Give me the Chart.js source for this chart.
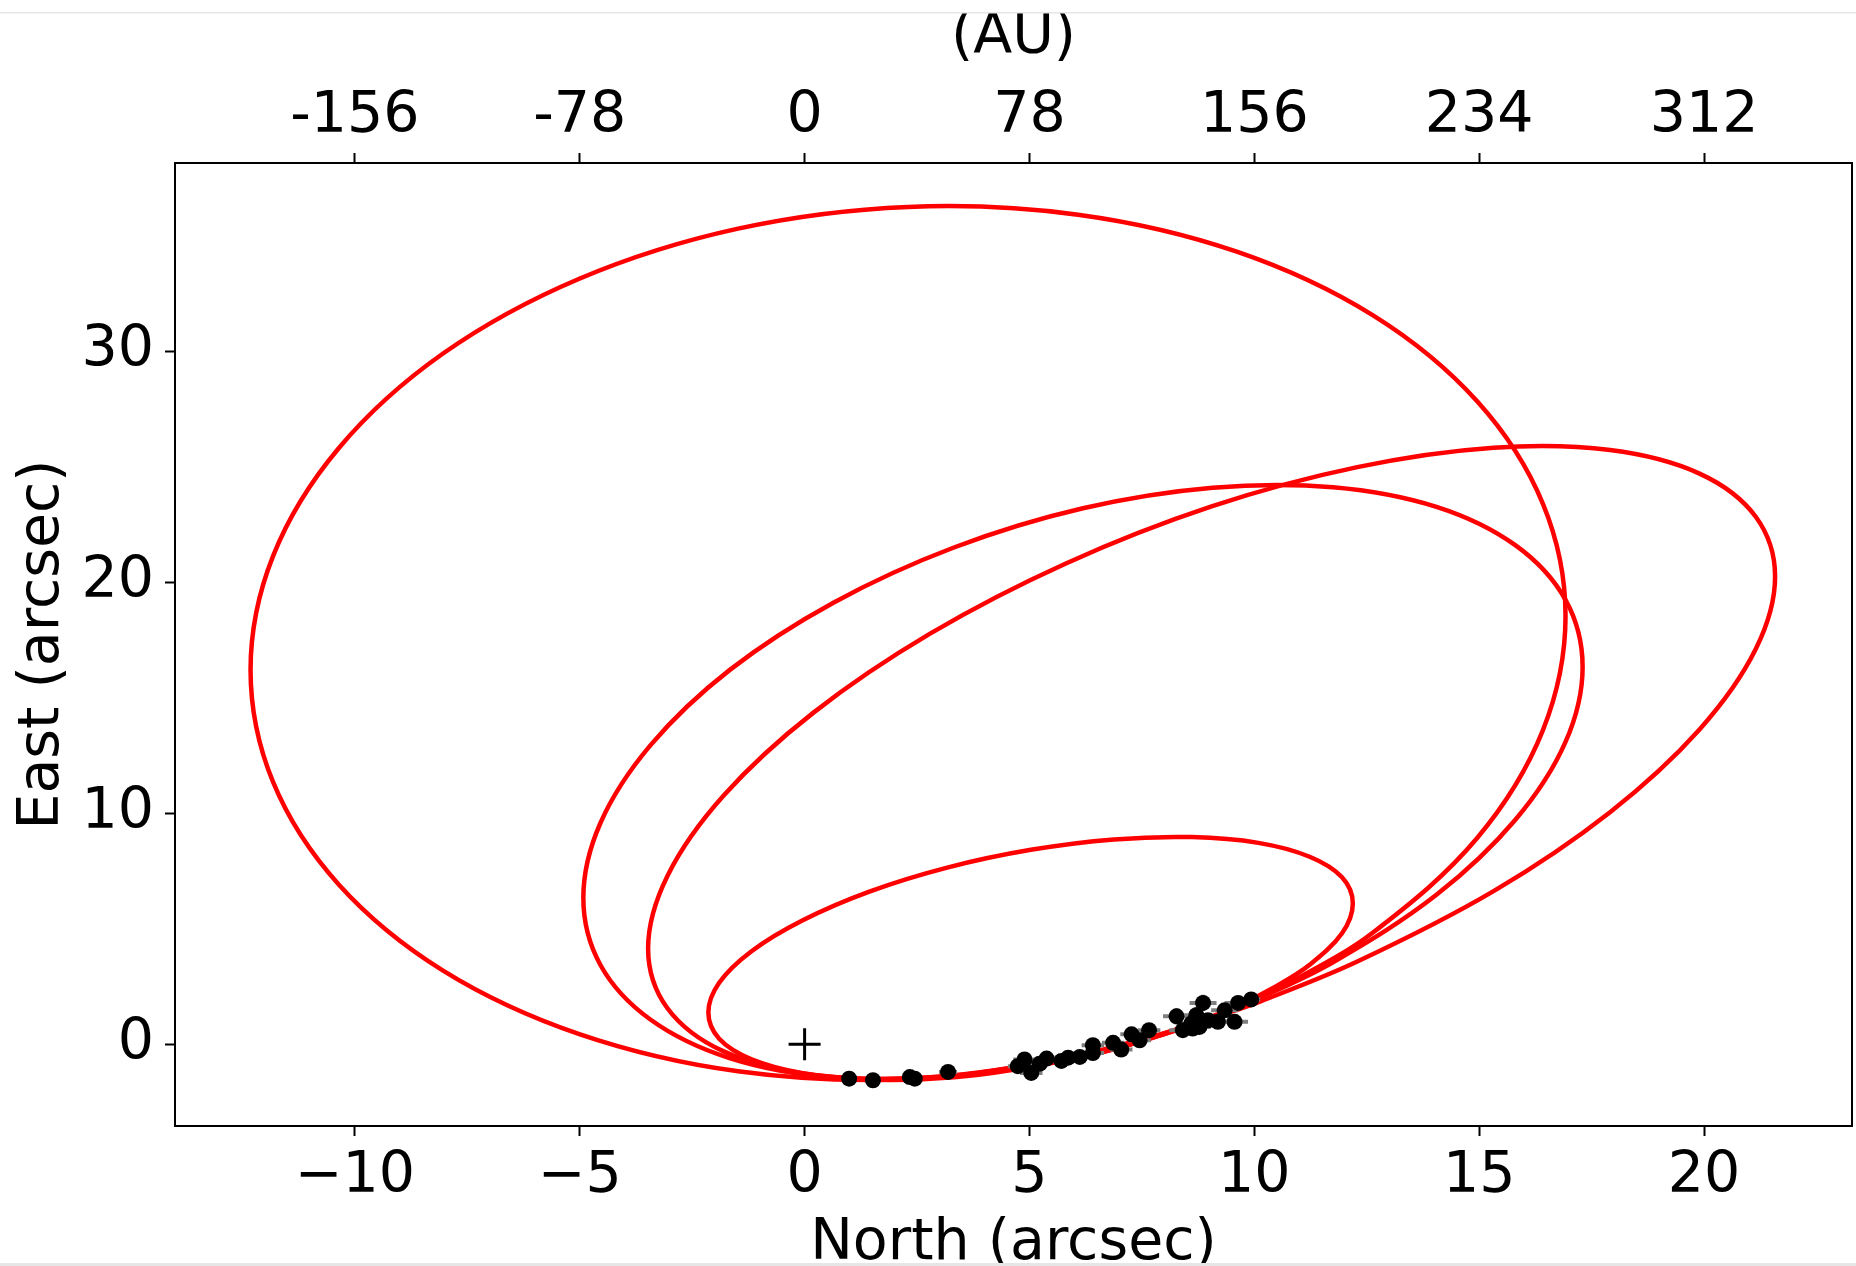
<!DOCTYPE html>
<html>
<head>
<meta charset="utf-8">
<title>Orbit fits</title>
<script src="https://cdn.jsdelivr.net/npm/chart.js@4.4.0/dist/chart.umd.min.js"></script>
<style>
  html, body { margin: 0; padding: 0; background: #fff; overflow: hidden; }
  canvas { display: block; }
</style>
</head>
<body>
<canvas id="orbitChart" width="1856" height="1266"></canvas>
<script>
// axis ticks
var xTicks = [-10, -5, 0, 5, 10, 15, 20];
var xTickLabels = ['\u221210', '\u22125', '0', '5', '10', '15', '20'];
var auTickLabels = ['-156', '-78', '0', '78', '156', '234', '312'];
var yTicks = [0, 10, 20, 30];
var yTickLabels = ['0', '10', '20', '30'];

// orbits (North, East) in arcsec
var orbitA = [[8.48,0.75],[9.61,1.60],[10.69,2.57],[12.64,4.84],[14.96,8.94],[16.42,13.61],[16.92,18.54],[16.42,23.39],[14.96,27.83],[12.64,31.56],[9.61,34.32],[6.08,35.92],[2.30,36.26],[-1.48,35.32],[-5.01,33.15],[-8.04,29.91],[-10.36,25.81],[-11.82,21.14],[-12.32,16.21],[-11.82,11.36],[-10.36,6.92],[-8.04,3.19],[-5.01,0.44],[-1.48,-1.17],[2.30,-1.51],[6.08,-0.57],[7.30,0.02],[8.48,0.75]];
var orbitB = [[9.07,1.16],[9.99,1.89],[11.75,3.55],[14.05,6.47],[15.81,9.73],[16.92,13.09],[17.30,16.34],[16.92,19.24],[15.81,21.60],[14.05,23.27],[11.75,24.12],[9.07,24.10],[6.19,23.21],[3.32,21.51],[0.64,19.12],[-1.67,16.20],[-3.43,12.94],[-4.54,9.58],[-4.92,6.34],[-4.54,3.43],[-3.43,1.07],[-1.67,-0.60],[0.64,-1.45],[3.32,-1.43],[6.19,-0.54],[8.12,0.51],[9.07,1.16]];
var orbitC = [[9.05,1.12],[10.14,1.86],[12.29,3.58],[15.32,6.63],[17.91,10.05],[19.90,13.63],[21.15,17.11],[21.58,20.25],[21.15,22.84],[19.90,24.71],[17.91,25.73],[15.32,25.83],[12.29,24.99],[9.05,23.29],[5.81,20.82],[2.79,17.78],[0.19,14.35],[-1.80,10.77],[-3.05,7.29],[-3.48,4.15],[-3.05,1.56],[-1.80,-0.31],[0.19,-1.33],[2.79,-1.43],[5.81,-0.59],[7.96,0.46],[9.05,1.12]];
var orbitD = [[8.61,0.86],[9.63,1.67],[10.51,2.54],[11.23,3.44],[11.95,4.81],[12.19,6.10],[11.95,7.23],[11.23,8.12],[10.09,8.72],[8.61,8.97],[6.88,8.87],[5.03,8.42],[3.17,7.65],[1.44,6.61],[-0.04,5.37],[-1.18,4.03],[-1.90,2.66],[-2.14,1.37],[-1.90,0.24],[-1.18,-0.65],[-0.04,-1.25],[1.44,-1.50],[3.17,-1.40],[5.03,-0.95],[6.88,-0.18],[7.48,0.14],[8.61,0.86]];

// astrometry
var obsX = [0.99,1.52,2.34,2.45,3.19,4.74,4.89,5.04,5.23,5.38,5.71,5.86,6.12,6.41,6.41,6.86,7.04,7.27,7.45,7.66,8.27,8.41,8.6,8.63,8.71,8.86,8.78,8.97,9.19,9.34,9.56,9.64,9.93];
var obsY = [-1.49,-1.56,-1.42,-1.49,-1.2,-0.95,-0.66,-1.24,-0.84,-0.62,-0.72,-0.58,-0.55,-0.04,-0.38,0.06,-0.23,0.43,0.17,0.61,1.21,0.61,0.9,0.68,1.26,1.79,0.75,1.04,0.97,1.47,0.97,1.79,1.94];
var obsXErr = [0.1,0.1,0.15,0.15,0.2,0.22,0.25,0.25,0.22,0.25,0.25,0.25,0.22,0.25,0.25,0.25,0.25,0.25,0.25,0.25,0.3,0.3,0.3,0.25,0.3,0.3,0.25,0.3,0.3,0.3,0.3,0.3,0.2];
var obsYErr = [0.1,0.1,0.15,0.15,0.2,0.2,0.25,0.25,0.25,0.25,0.25,0.25,0.25,0.3,0.3,0.3,0.3,0.3,0.3,0.3,0.35,0.3,0.3,0.3,0.35,0.35,0.3,0.3,0.3,0.3,0.3,0.3,0.2];

var starX = [0];
var starY = [0];

function toPoints(list) {
  return list.map(function (p) { return { x: p[0], y: p[1] }; });
}

var font = 'DejaVu Sans';
Chart.defaults.font.family = font;
Chart.defaults.color = '#000';

function orbitSet(list) {
  return {
    data: toPoints(list),
    showLine: true,
    borderColor: '#ff0000',
    borderWidth: 4.5,
    pointRadius: 0,
    tension: 0.35,
    fill: false
  };
}

var errorBars = {
  id: 'errorBars',
  beforeDatasetDraw: function (chart, args) {
    if (args.index !== 0) return;
    var ctx = chart.ctx, xs = chart.scales.x, ys = chart.scales.y;
    ctx.save();
    ctx.strokeStyle = '#7f7f7f';
    ctx.lineWidth = 4;
    obsX.forEach(function (v, i) {
      var px = xs.getPixelForValue(v), py = ys.getPixelForValue(obsY[i]);
      ctx.beginPath();
      ctx.moveTo(xs.getPixelForValue(v - obsXErr[i]), py);
      ctx.lineTo(xs.getPixelForValue(v + obsXErr[i]), py);
      ctx.moveTo(px, ys.getPixelForValue(obsY[i] - obsYErr[i]));
      ctx.lineTo(px, ys.getPixelForValue(obsY[i] + obsYErr[i]));
      ctx.stroke();
    });
    ctx.restore();
  }
};

var frame = {
  id: 'frame',
  afterDraw: function (chart) {
    var a = chart.chartArea, ctx = chart.ctx;
    ctx.save();
    ctx.strokeStyle = '#000';
    ctx.lineWidth = 2;
    ctx.beginPath();
    ctx.moveTo(a.right, a.top - 1);
    ctx.lineTo(a.right, a.bottom + 1);
    ctx.stroke();
    // page edges visible in the screenshot
    ctx.fillStyle = '#fff';
    ctx.fillRect(0, 0, chart.width, 12);
    ctx.fillStyle = '#e6e6e6';
    ctx.fillRect(0, 12, chart.width, 1.5);
    ctx.fillRect(0, chart.height - 3, chart.width, 3);
    ctx.restore();
  }
};

function tickGrid() {
  return { drawOnChartArea: false, drawTicks: true, tickLength: 10, tickWidth: 2, tickColor: '#000' };
}
var axisBorder = { display: true, color: '#000', width: 2 };

function fixX(h) {
  return function (s) { s.height = h; s.paddingLeft = 0; s.paddingRight = 0; };
}

new Chart(document.getElementById('orbitChart'), {
  type: 'scatter',
  data: {
    datasets: [
      {
        data: obsX.map(function (v, i) { return { x: v, y: obsY[i] }; }),
        pointRadius: 8,
        pointBackgroundColor: '#000',
        pointBorderWidth: 0
      },
      {
        data: starX.map(function (v, i) { return { x: v, y: starY[i] }; }),
        pointStyle: 'cross',
        pointRadius: 16,
        pointBorderColor: '#000',
        pointBorderWidth: 3
      },
      orbitSet(orbitD),
      orbitSet(orbitC),
      orbitSet(orbitB),
      orbitSet(orbitA)
    ]
  },
  options: {
    responsive: false,
    devicePixelRatio: 1,
    animation: false,
    layout: { autoPadding: false, padding: { left: 0, right: 4, top: 0, bottom: 0 } },
    plugins: { legend: { display: false }, tooltip: { enabled: false } },
    scales: {
      x: {
        type: 'linear', position: 'bottom', min: -14.0, max: 23.29,
        afterBuildTicks: function (s) { s.ticks = xTicks.map(function (v) { return { value: v }; }); },
        afterFit: fixX(140),
        ticks: {
          callback: function (v, i) { return xTickLabels[i]; },
          font: { size: 57 }, padding: 7, maxRotation: 0, autoSkip: false
        },
        grid: tickGrid(),
        border: axisBorder,
        title: { display: true, text: 'North (arcsec)', font: { size: 57, lineHeight: 0.78 }, padding: { top: 0, bottom: 0 } }
      },
      x2: {
        type: 'linear', position: 'top', min: -14.0, max: 23.29,
        afterBuildTicks: function (s) { s.ticks = xTicks.map(function (v) { return { value: v }; }); },
        afterFit: fixX(163),
        ticks: {
          callback: function (v, i) { return auTickLabels[i]; },
          font: { size: 57 }, padding: 2, maxRotation: 0, autoSkip: false
        },
        grid: tickGrid(),
        border: axisBorder,
        title: { display: true, text: '(AU)', font: { size: 57, lineHeight: 0.78 }, padding: { top: 16, bottom: 0 } }
      },
      y: {
        type: 'linear', position: 'left', min: -3.54, max: 38.16,
        afterBuildTicks: function (s) { s.ticks = yTicks.map(function (v) { return { value: v }; }); },
        afterFit: function (s) { s.width = 175; s.paddingTop = 0; s.paddingBottom = 0; },
        ticks: {
          callback: function (v, i) { return yTickLabels[i]; },
          font: { size: 57 }, padding: 11, autoSkip: false
        },
        grid: tickGrid(),
        border: axisBorder,
        title: { display: true, text: 'East (arcsec)', font: { size: 57, lineHeight: 0.78 }, padding: { top: 21, bottom: 0 } }
      }
    }
  },
  plugins: [errorBars, frame]
});
</script>
</body>
</html>
